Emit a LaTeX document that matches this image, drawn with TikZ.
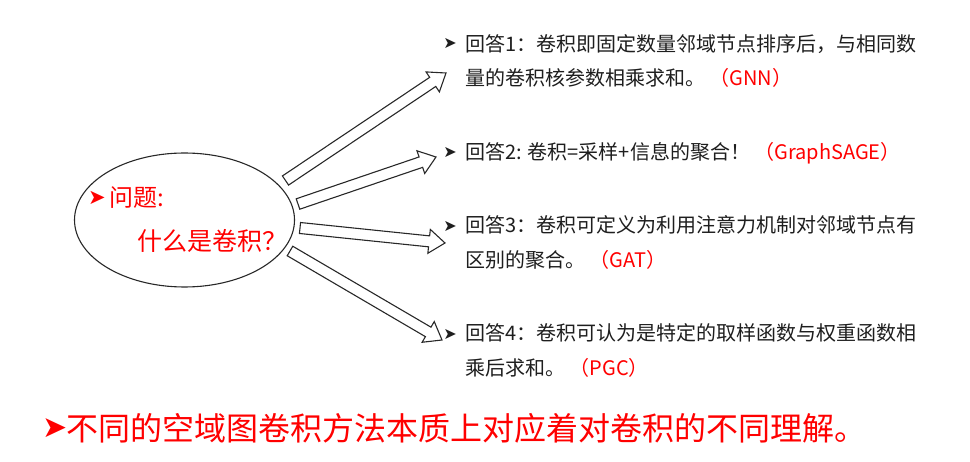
\documentclass[tikz,border=0pt]{standalone}
\usepackage{fontspec}
\setmainfont{Noto Sans CJK SC}
\newfontfamily\symfont{DejaVu Sans}
\usetikzlibrary{calc}
\definecolor{ared}{RGB}{255,0,0}
\definecolor{ink}{RGB}{30,30,30}
\definecolor{edge}{RGB}{40,40,40}
\tikzset{
  barrow/.style={draw=edge, line width=1.1pt, fill=white, line join=miter},
  answer/.style={anchor=base west, inner sep=0pt, font=\fontsize{20pt}{33pt}\selectfont, text=ink},
  bul/.style={anchor=center, inner sep=0pt, font=\symfont\fontsize{16pt}{16pt}\selectfont, text=ink}
}
\newcommand{\hollowarrow}[2]{%
  \coordinate (hb) at ($(#2)!16pt!(#1)$);
  \draw[barrow] ($(#1)!5.5pt!90:(#2)$) -- ($(hb)!5.5pt!-90:(#1)$)
     -- ($(hb)!12pt!-90:(#1)$) -- (#2) -- ($(hb)!12pt!90:(#1)$)
     -- ($(hb)!5.5pt!90:(#1)$) -- ($(#1)!5.5pt!-90:(#2)$) -- cycle;}
\begin{document}
\begin{tikzpicture}[x=1pt,y=-1pt]
\useasboundingbox (0,0) rectangle (970,462);
% question ellipse
\draw[edge, line width=1.1pt] (184.5,220) ellipse [x radius=110, y radius=67];
\coordinate (q) at (184.5,220);
\node[bul, text=ared, font=\symfont\fontsize{21pt}{21pt}\selectfont] (qb) at (97,198) {➤};
\node[anchor=base west, inner sep=0pt, text=ared, font=\fontsize{24pt}{24pt}\selectfont] (q1) at (109,207) {问题:};
\node[anchor=base west, inner sep=0pt, text=ared, font=\fontsize{25pt}{25pt}\selectfont] (q2) at (137,251) {什么是卷积？};
% answers
\node[bul] (b1) at (450,43) {➤};
\node[answer] (a1) at (465,52) {回答1：卷积即固定数量邻域节点排序后，与相同数};
\node[answer] (a1b) at (465,86) {量的卷积核参数相乘求和。 \textcolor{ared}{（GNN）}};
\node[bul] (b2) at (450,152) {➤};
\node[answer] (a2) at (465,160) {回答2: 卷积=采样+信息的聚合！ \textcolor{ared}{（GraphSAGE）}};
\node[bul] (b3) at (450,226) {➤};
\node[answer] (a3) at (465,233) {回答3：卷积可定义为利用注意力机制对邻域节点有};
\node[answer] (a3b) at (465,268) {区别的聚合。 \textcolor{ared}{（GAT）}};
\node[bul] (b4) at (450,334) {➤};
\node[answer] (a4) at (465,341) {回答4：卷积可认为是特定的取样函数与权重函数相};
\node[answer] (a4b) at (465,376) {乘后求和。 \textcolor{ared}{（PGC）}};
% arrows
\coordinate (s1) at (285.5,180.5); \coordinate (e1) at (446,73);
\coordinate (s2) at (298,204);     \coordinate (e2) at (436,157);
\coordinate (s3) at (300,228);     \coordinate (e3) at (445,243);
\coordinate (s4) at (290,251);     \coordinate (e4) at (442,340);
\hollowarrow{s1}{e1}
\hollowarrow{s2}{e2}
\hollowarrow{s3}{e3}
\hollowarrow{s4}{e4}
% conclusion
\node[bul, text=ared, font=\symfont\fontsize{30pt}{30pt}\selectfont] (cb) at (55,428) {➤};
\node[anchor=base west, inner sep=0pt, text=ared, font=\fontsize{32pt}{32pt}\selectfont] (c) at (66,441) {不同的空域图卷积方法本质上对应着对卷积的不同理解。};
\end{tikzpicture}
\end{document}
